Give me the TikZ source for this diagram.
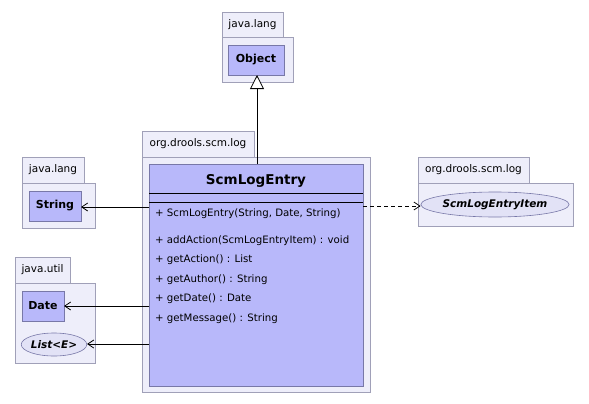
\documentclass[tikz,border=0pt]{standalone}
\usepackage{fontspec}
\setmainfont{DejaVu Sans}
\usetikzlibrary{arrows.meta,shapes.geometric}
\definecolor{pkgfill}{HTML}{EEEEFA}
\definecolor{pkgline}{HTML}{A0A0B8}
\definecolor{clsfill}{HTML}{B8B8FA}
\definecolor{clsline}{HTML}{7878A8}
\definecolor{intfill}{HTML}{E2E2F6}
\tikzset{
  pkg/.style={draw=pkgline,fill=pkgfill,line width=0.8pt},
  cls/.style={draw=clsline,fill=clsfill,line width=0.8pt},
  pkgname/.style={font=\fontsize{10.5}{12}\selectfont,anchor=center},
  clsname/.style={font=\fontsize{11}{13}\selectfont\bfseries},
  intf/.style={ellipse,draw=clsline,fill=intfill,line width=0.6pt,inner sep=0pt,font=\fontsize{10.5}{12}\selectfont\bfseries\itshape},
  meth/.style={font=\fontsize{10.2}{12}\selectfont,anchor=base west,inner sep=0pt},
  dep/.style={line width=0.8pt,-{Straight Barb[length=6pt,width=8pt]}},
  inh/.style={line width=0.8pt,-{Triangle[open,length=14pt,width=14pt,fill=white]}}
}
\begin{document}
\begin{tikzpicture}[x=1pt,y=-1pt]
\useasboundingbox (0,0) rectangle (589,404);
\fill[white] (0,0) rectangle (589,404);
% Object package
\draw[pkg] (222,12) rectangle (283,37);
\draw[pkg] (222,37) rectangle (293,82);
\node[pkgname] (p1) at (252.5,25) {java.lang};
\draw[cls] (228,45) rectangle (284,75);
\node[clsname] (obj) at (256,60) {Object};
\coordinate (objb) at (257,75);
% main package
\draw[pkg] (142,131) rectangle (254,157);
\draw[pkg] (142,157) rectangle (370,392);
\node[pkgname] (p2) at (198,144) {org.drools.scm.log};
\draw[cls] (149,164) rectangle (363,386);
\node[font=\fontsize{13.5}{15}\selectfont\bfseries] (main) at (256,181) {ScmLogEntry};
\draw[line width=0.8pt] (149,193) -- (363,193);
\draw[line width=0.8pt] (149,202) -- (363,202);
\node[meth] (m1) at (155,216) {+ ScmLogEntry(String, Date, String)};
\node[meth] (m2) at (155,243) {+ addAction(ScmLogEntryItem) : void};
\node[meth] (m3) at (155,262.5) {+ getAction() : List};
\node[meth] (m4) at (155,282) {+ getAuthor() : String};
\node[meth] (m5) at (155,301.5) {+ getDate() : Date};
\node[meth] (m6) at (155,321) {+ getMessage() : String};
\coordinate (maintop) at (257,164);
\coordinate (ms) at (149,207);
\coordinate (md) at (149,306);
\coordinate (ml) at (149,344);
\coordinate (mr) at (363,206);
% String package
\draw[pkg] (22,157) rectangle (84,183);
\draw[pkg] (22,183) rectangle (95,228);
\node[pkgname] (p3) at (53,170) {java.lang};
\draw[cls] (29,191) rectangle (81,221);
\node[clsname] (str) at (55,206) {String};
\coordinate (strr) at (81,207);
% java.util package
\draw[pkg] (15,257) rectangle (70,283);
\draw[pkg] (15,283) rectangle (95,363);
\node[pkgname] (p4) at (42.5,270) {java.util};
\draw[cls] (22,291) rectangle (64,321);
\node[clsname] (date) at (43,306) {Date};
\coordinate (dater) at (64,306);
\node[intf,minimum width=64pt,minimum height=23pt] (list) at (54,344.5) {List<E>};
% right package
\draw[pkg] (418,157) rectangle (529,183);
\draw[pkg] (418,183) rectangle (573,226);
\node[pkgname] (p5) at (473.5,170) {org.drools.scm.log};
\node[intf,minimum width=140pt,minimum height=25pt] (item) at (495,204.5) {ScmLogEntryItem};
% connectors
\draw[inh] (maintop) -- (objb);
\draw[dep] (ms) -- (strr);
\draw[dep] (md) -- (dater);
\draw[dep] (ml) -- (list.east|-ml);
\draw[dep,dashed,dash pattern=on 4pt off 3pt] (mr) -- (item.west|-mr);
\end{tikzpicture}
\end{document}
